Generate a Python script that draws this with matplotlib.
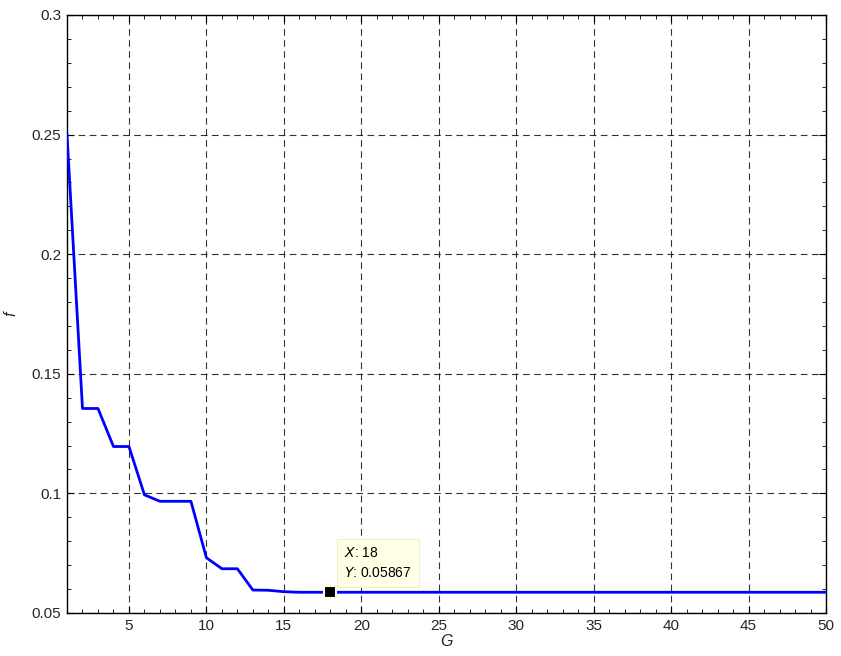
import numpy as np
import matplotlib
matplotlib.use("Agg")
import matplotlib.pyplot as plt
from matplotlib.ticker import MultipleLocator

plt.rcParams['font.family'] = ['Liberation Sans', 'DejaVu Sans']

# best fitness per generation
G = list(range(1, 51))
f = [0.2500, 0.1355, 0.1355, 0.1196, 0.1196, 0.0994, 0.0967, 0.0967, 0.0967,
     0.0731, 0.0685, 0.0685, 0.0596, 0.0595, 0.0589] + [0.05867] * 35

tip_x = 18
tip_y = 0.05867

fig = plt.figure(figsize=(8.41, 6.56), dpi=100)
ax = fig.add_axes([67 / 841, 43 / 656, 759 / 841, 598 / 656])

ax.plot(G, f, color='#0000ff', lw=2, zorder=3)

ax.set_xlim(1, 50)
ax.set_ylim(0.05, 0.3)
ax.set_xticks([5, 10, 15, 20, 25, 30, 35, 40, 45, 50])
ax.set_yticks([0.05, 0.1, 0.15, 0.2, 0.25, 0.3])
ax.set_yticklabels(['0.05', '0.1', '0.15', '0.2', '0.25', '0.3'])
ax.xaxis.set_minor_locator(MultipleLocator(1))
ax.yaxis.set_minor_locator(MultipleLocator(0.01))
ax.tick_params(which='both', direction='in', top=True, right=True, labelsize=11,
               color='black', labelcolor='#262626')
ax.tick_params(which='major', length=5, pad=4)
ax.tick_params(which='minor', length=3)
ax.grid(True, which='major', color='black', ls=(0, (6, 4)), lw=0.8, alpha=0.8)
for s in ax.spines.values():
    s.set_linewidth(1)

ax.set_xlabel('G', style='italic', fontsize=11.5, labelpad=1, color='#262626')
ax.set_ylabel('f', style='italic', fontsize=11.5, color='#262626')
ax.yaxis.set_label_coords(-0.064, 0.5)

# data cursor
ax.plot([tip_x], [tip_y], 's', ms=8, color='black', mec='#ffffe0', mew=1.5, zorder=5)
ax.annotate('$X$: %d\n$Y$: %.5f' % (tip_x, tip_y), xy=(tip_x, tip_y),
            xytext=(10, 9), textcoords='offset points', fontsize=10,
            linespacing=1.5, va='bottom', ha='left',
            bbox=dict(boxstyle='square,pad=0.5', fc='#ffffe6', ec='#f0f0d0', lw=0.8),
            zorder=6)

fig.savefig('out.png', dpi=100)
